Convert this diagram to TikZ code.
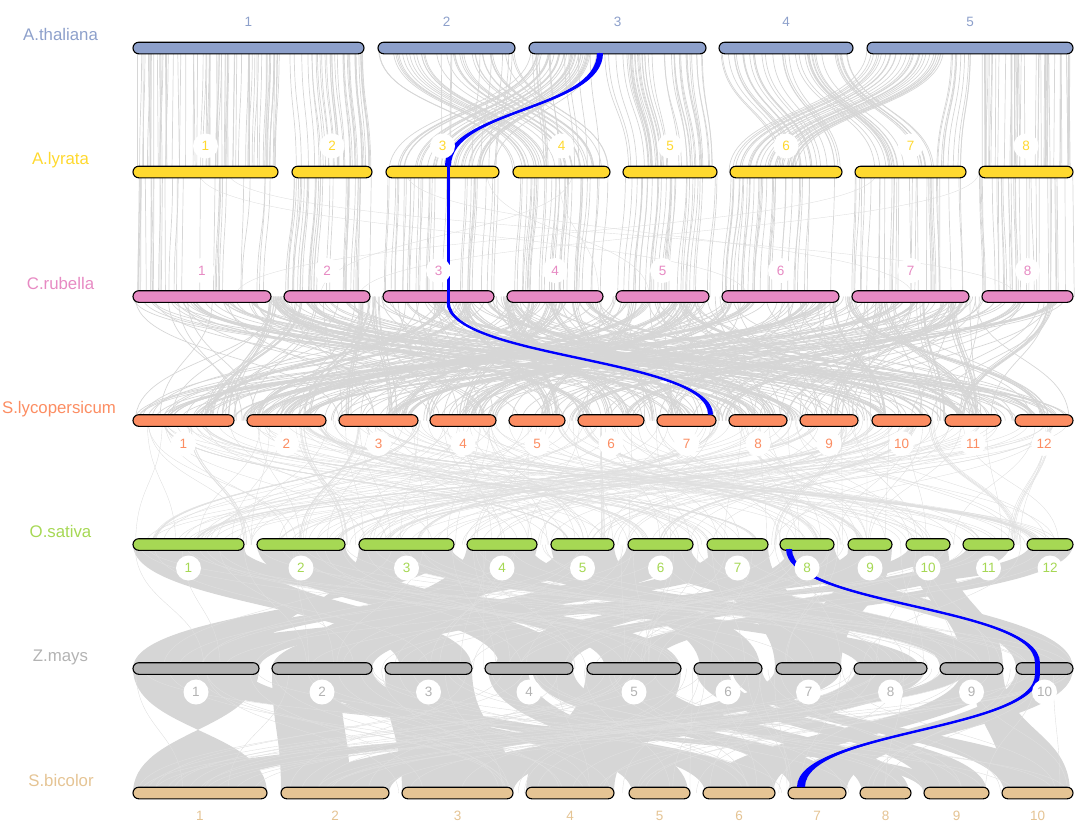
\documentclass[tikz,border=0pt]{standalone}
\usepackage{fontspec}
\setmainfont{Liberation Sans}
\definecolor{cA}{HTML}{8DA0CB}
\definecolor{cB}{HTML}{FFD92F}
\definecolor{cC}{HTML}{E78AC3}
\definecolor{cD}{HTML}{FC8D62}
\definecolor{cE}{HTML}{A6D854}
\definecolor{cF}{HTML}{B3B3B3}
\definecolor{cG}{HTML}{E5C494}
\definecolor{lk}{HTML}{D6D6D6}
\definecolor{lkl}{HTML}{E0E0E0}
\definecolor{bl}{HTML}{0000FF}
% block of near-parallel links
\newcommand{\blk}[7]{%
  \foreach \k in {1,...,#7}{%
    \pgfmathsetmacro{\myT}{rnd}%
    \pgfmathsetmacro{\myXa}{#1+\myT*(#2-#1)}%
    \pgfmathsetmacro{\myXb}{#4+(\myT+0.04*(rnd-0.5))*(#5-#4)}%
    \draw[glink] (\myXa,#3) .. controls (\myXa,{(#3+#6)/2}) and (\myXb,{(#3+#6)/2}) .. (\myXb,#6);
  }}
% random links
\newcommand{\rlinks}[6]{%
  \foreach \k in {1,...,#3}{%
    \pgfmathsetmacro{\myXa}{#4+rnd*(#5-#4)}%
    \pgfmathsetmacro{\myXb}{#4+rnd*(#5-#4)}%
    \draw[#6] (\myXa,#1) .. controls (\myXa,{(#1+#2)/2}) and (\myXb,{(#1+#2)/2}) .. (\myXb,#2);
  }}
% random bundles
\newcommand{\rbund}[6]{%
  \foreach \k in {1,...,#3}{%
    \pgfmathsetmacro{\myCa}{140+rnd*920}%
    \pgfmathsetmacro{\myCb}{140+rnd*920}%
    \foreach \j in {1,...,#4}{%
      \pgfmathsetmacro{\myU}{rnd*#5}%
      \pgfmathsetmacro{\myXa}{\myCa+\myU}%
      \pgfmathsetmacro{\myXb}{\myCb+\myU+rnd*3}%
      \draw[#6] (\myXa,#1) .. controls (\myXa,{(#1+#2)/2}) and (\myXb,{(#1+#2)/2}) .. (\myXb,#2);
    }}}
% ribbon
\newcommand{\rib}[7]{%
  \fill[#7] (#1,#3) .. controls (#1,{(#3+#6)/2}) and (#4,{(#3+#6)/2}) .. (#4,#6) -- (#5,#6) .. controls (#5,{(#3+#6)/2}) and (#2,{(#3+#6)/2}) .. (#2,#3) -- cycle;}
% blue highlighted link
\newcommand{\bcurve}[6]{%
  \rib{#1}{#2}{#3}{#4}{#5}{#6}{bl}%
  \draw[bl, line width=2.4pt] ({(#1+#2)/2},#3) .. controls ({(#1+#2)/2},{(#3+#6)/2}) and ({(#4+#5)/2},{(#3+#6)/2}) .. ({(#4+#5)/2},#6);}
\newcommand{\bars}[3]{\foreach \a/\b in #3 {\draw[chrom,fill=#2] (\a,{#1-5.8}) rectangle (\b,{#1+5.8});}}
\newcommand{\labs}[5]{\foreach \a/\b [count=\i] in #5 {\node[clab,text=#2] (#3\i) at ({(\a+\b)/2},{#1+#4}) {\i};}}
\def\LA{133/364,378/515,529/706,719/853,867/1073}
\def\LB{133/278,292/372,386/499,513/610,623/717,730/842,855/966,979/1073}
\def\LC{133/271,284/370,383/494,507/603,616/709,722/839,852/969,982/1073}
\def\LD{133/234,247/326,339/418,430/496,509/565,578/644,657/716,729/787,800/858,872/931,945/1001,1015/1073}
\def\LE{133/244,257/345,359/454,467/537,551/614,628/693,707/768,780/834,848/892,906/950,963/1014,1027/1073}
\def\LF{133/259,272/372,385/472,485/573,587/681,694/762,776/841,854/927,940/1003,1016/1073}
\def\LG{133/267,281/389,402/513,526/614,629/690,703/775,788/846,860/911,924/989,1002/1073}
\begin{document}
\begin{tikzpicture}[x=1pt,y=-1pt,
  glink/.style={draw=lk, line width=0.7pt},
  gthin/.style={draw=lkl, line width=0.4pt},
  grib/.style={fill=lk},
  chrom/.style={draw=black, line width=1.1pt, rounded corners=5.8pt},
  clab/.style={circle, fill=white, minimum size=25pt, inner sep=0pt, font=\fontsize{13.5}{14}\selectfont},
  sp/.style={anchor=base, font=\fontsize{16.8}{18}\selectfont}]
\useasboundingbox (0,0) rectangle (1081,828);
\pgfmathsetseed{12345}
% ---------- links A.thaliana -> A.lyrata
\foreach \a/\b/\c/\d/\n in {133/280/133/278/70, 285/364/292/372/35, 378/515/513/610/35,
  529/600/386/499/35, 440/515/440/499/8, 530/600/540/610/10, 600/706/623/717/40,
  719/790/780/842/20, 790/853/870/940/20, 867/950/730/800/30, 950/975/935/966/10, 980/1073/979/1073/45}
  {\blk{\a}{\b}{48}{\c}{\d}{172}{\n}}
% ---------- links A.lyrata -> C.rubella
\foreach \a/\b/\c/\d in {133/278/133/271, 292/372/284/370, 386/499/383/494, 513/610/507/603,
  623/717/616/709, 730/842/722/839, 855/966/852/969, 979/1073/982/1073}
  {\blk{\a}{\b}{172}{\c}{\d}{296.5}{30}}
\rlinks{172}{296.5}{8}{133}{1073}{gthin}
% ---------- links C.rubella -> S.lycopersicum
\rlinks{296.5}{420.5}{260}{133}{1073}{glink}
\rbund{296.5}{420.5}{50}{6}{8}{glink}
% ---------- links S.lycopersicum -> O.sativa
\rlinks{420.5}{544.5}{200}{133}{1073}{gthin}
\rbund{420.5}{544.5}{20}{5}{6}{gthin}
% ---------- ribbons O.sativa -> Z.mays
\foreach \a/\b/\c/\d in {133/244/400/472, 160/240/860/920, 257/345/500/573, 270/345/605/680,
  359/454/259/133, 375/450/945/1000, 467/537/290/370, 475/530/960/1000, 551/614/700/760,
  560/605/160/215, 627/693/300/372, 635/690/940/985, 707/768/775/841, 715/765/272/325,
  780/834/1016/1073, 790/830/495/555, 848/892/795/841, 852/888/335/372, 910/948/205/259,
  910/948/962/1003, 968/1010/275/318, 968/1010/522/570, 1030/1073/145/195, 1030/1073/605/650}
  {\rib{\a}{\b}{544.5}{\c}{\d}{668.5}{grib}}
\rlinks{544.5}{668.5}{90}{133}{1073}{gthin}
% ---------- ribbons Z.mays -> S.bicolor
\foreach \a/\b/\c/\d in {133/259/267/133, 160/245/924/955, 272/340/281/350, 325/372/705/770,
  300/355/632/660, 385/472/402/513, 488/528/632/688, 532/573/792/844, 586/681/526/614,
  605/655/862/909, 696/728/926/987, 732/762/1004/1070, 775/841/300/389, 856/925/422/513,
  942/968/142/218, 962/1003/705/773, 972/1003/1004/1070, 1016/1073/788/846}
  {\rib{\a}{\b}{668.5}{\c}{\d}{793}{grib}}
\rlinks{668.5}{793}{90}{133}{1073}{gthin}
% ---------- chromosome bars
\bars{48}{cA}{\LA}
\bars{172}{cB}{\LB}
\bars{296.5}{cC}{\LC}
\bars{420.5}{cD}{\LD}
\bars{544.5}{cE}{\LE}
\bars{668.5}{cF}{\LF}
\bars{793}{cG}{\LG}
% ---------- highlighted links
\bcurve{597}{603}{53}{445}{451}{166}
\fill[bl] (446.5,166) rectangle (449.8,302);
\bcurve{446.5}{449.8}{302}{708}{713}{414.5}
\bcurve{786}{792}{549}{1035}{1040}{663}
\fill[bl] (1035,663) rectangle (1040,674);
\bcurve{1035}{1040}{674}{797}{805}{787}
% ---------- chromosome labels
\labs{48}{cA}{a}{-26}{\LA}
\labs{172}{cB}{b}{-26}{\LB}
\labs{296.5}{cC}{c}{-26}{\LC}
\labs{420.5}{cD}{d}{23}{\LD}
\labs{544.5}{cE}{e}{23.5}{\LE}
\labs{668.5}{cF}{f}{23.5}{\LF}
\labs{793}{cG}{g}{23}{\LG}
% ---------- species labels
\node[sp, text=cA] (spA) at (60.5,40) {A.thaliana};
\node[sp, text=cB] (spB) at (60.5,164) {A.lyrata};
\node[sp, text=cC] (spC) at (60.5,289) {C.rubella};
\node[sp, text=cD] (spD) at (59,413) {S.lycopersicum};
\node[sp, text=cE] (spE) at (60.5,537) {O.sativa};
\node[sp, text=cF] (spF) at (60.5,661) {Z.mays};
\node[sp, text=cG] (spG) at (61,786) {S.bicolor};
\end{tikzpicture}
\end{document}
